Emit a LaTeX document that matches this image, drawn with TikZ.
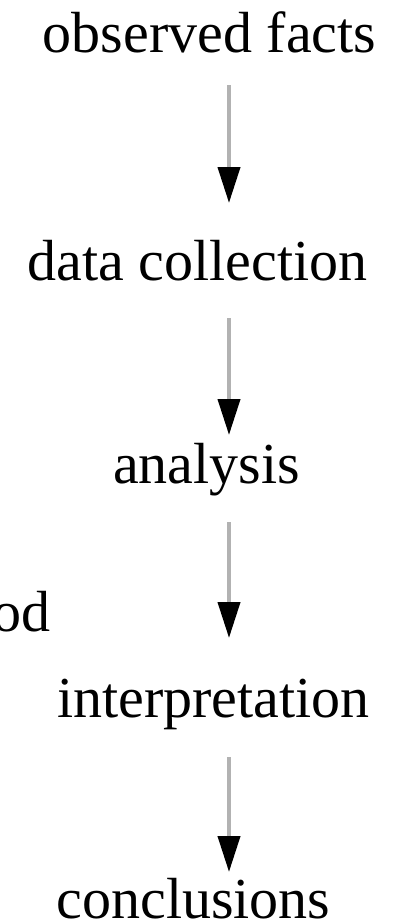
\documentclass[tikz,border=0pt]{standalone}
\usepackage{fontspec}
\setmainfont{Liberation Serif}
\usetikzlibrary{arrows.meta}
\definecolor{shaft}{RGB}{178,178,178}
\tikzset{
  lbl/.style={inner sep=0pt, anchor=base, font=\fontsize{58}{60}\selectfont, text=black},
  flow/.style={draw=shaft, line width=4pt, -{Triangle[length=36pt,width=22pt,color=black]}}
}
\begin{document}
\begin{tikzpicture}[x=1pt,y=-1pt]
\useasboundingbox (0,0) rectangle (397,921);
\coordinate (ax) at (229,0);
\node[lbl] (obs) at (209.5,52) {observed facts};
\node[lbl] (data) at (197.5,280) {data collection};
\node[lbl] (ana) at (206.5,483) {analysis};
\node[lbl,anchor=base east] (meth) at (51,631) {od};
\node[lbl] (interp) at (213.5,717) {interpretation};
\node[lbl] (concl) at (193.5,918.5) {conclusions};
\draw[flow, shorten <=33pt, shorten >=77pt] (obs.base -| ax) -- (data.base -| ax);
\draw[flow, shorten <=38pt, shorten >=48pt] (data.base -| ax) -- (ana.base -| ax);
\draw[flow, shorten <=39pt, shorten >=79pt] (ana.base -| ax) -- (interp.base -| ax);
\draw[flow, shorten <=40pt, shorten >=46.5pt] (interp.base -| ax) -- (concl.base -| ax);
\end{tikzpicture}
\end{document}
